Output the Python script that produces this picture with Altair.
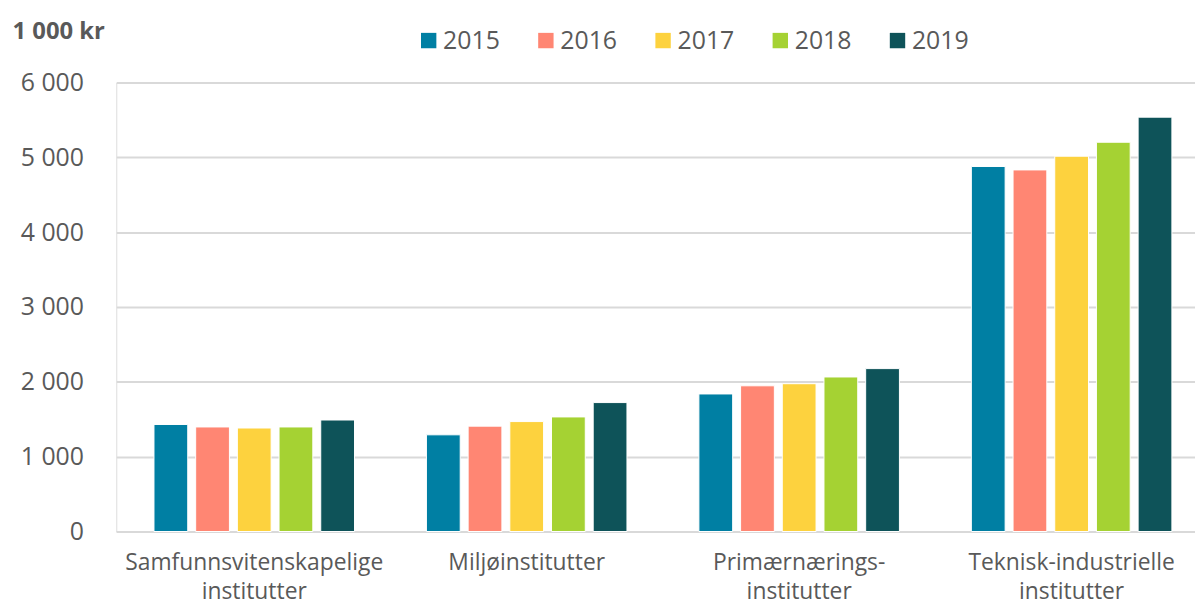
import altair as alt
import pandas as pd

categories = ["Samfunnsvitenskapelige institutter", "Miljøinstitutter",
              "Primærnærings- institutter", "Teknisk-industrielle institutter"]
years = ["2015", "2016", "2017", "2018", "2019"]
values_2015 = [1430, 1292, 1838, 4878]
values_2016 = [1397, 1408, 1947, 4832]
values_2017 = [1383, 1469, 1975, 5015]
values_2018 = [1397, 1531, 2065, 5202]
values_2019 = [1490, 1723, 2177, 5537]
colors = ["#007FA3", "#FF8673", "#FDD23E", "#A5D233", "#0E5359"]
y_ticks = [0, 1000, 2000, 3000, 4000, 5000, 6000]

series = [values_2015, values_2016, values_2017, values_2018, values_2019]
rows = []
for y, vals in zip(years, series):
    for c, v in zip(categories, vals):
        rows.append({"kategori": c, "år": y, "verdi": v})
df = pd.DataFrame(rows)

FONT = "Open Sans"
TXT = "#595959"

chart = alt.Chart(df).mark_bar(stroke="white", strokeWidth=1).encode(
    x=alt.X("kategori:N", sort=categories,
            scale=alt.Scale(paddingInner=0.264, paddingOuter=0.1116, align=0.62),
            axis=alt.Axis(title=None, labelAngle=0, labelFontSize=23, labelFont=FONT,
                          labelColor=TXT, labelPadding=20, labelLineHeight=29,
                          labelLimit=500,
                          labelExpr="split(datum.label, ' ')", ticks=False,
                          domainColor="#D9D9D9", domainWidth=2, labelBaseline="top")),
    xOffset=alt.XOffset("år:N", scale=alt.Scale(paddingInner=0.19, paddingOuter=0)),
    y=alt.Y("verdi:Q", scale=alt.Scale(domain=[0, 6000], nice=False),
            axis=alt.Axis(values=y_ticks, title="1 000 kr", titleAngle=0,
                          titleAlign="left", titleBaseline="middle",
                          titleX=-105, titleY=-51, titleFont=FONT, titleFontSize=24,
                          titleFontWeight="bold", titleColor=TXT,
                          labelExpr="replace(format(datum.value, ',d'), ',', ' ')",
                          labelFont=FONT, labelFontSize=25, labelColor=TXT,
                          labelPadding=33, domain=False, ticks=False,
                          gridColor="#D9D9D9", gridWidth=2)),
    color=alt.Color("år:N", scale=alt.Scale(domain=years, range=colors),
                    legend=alt.Legend(title=None, orient="none", direction="horizontal",
                                      legendX=302, legendY=-55, symbolType="square",
                                      symbolSize=240, symbolStrokeWidth=0,
                                      labelFont=FONT, labelFontSize=25, labelColor=TXT,
                                      labelOffset=2, columnPadding=33, columns=5)),
).properties(
    width=1086, height=452,
    autosize=alt.AutoSizeParams(type="none"),
    padding={"left": 109, "top": 73, "right": 0, "bottom": 77},
).configure_view(stroke=None).configure(background="white")

chart.save("out.html", embed_options={"renderer": "svg", "actions": False})
